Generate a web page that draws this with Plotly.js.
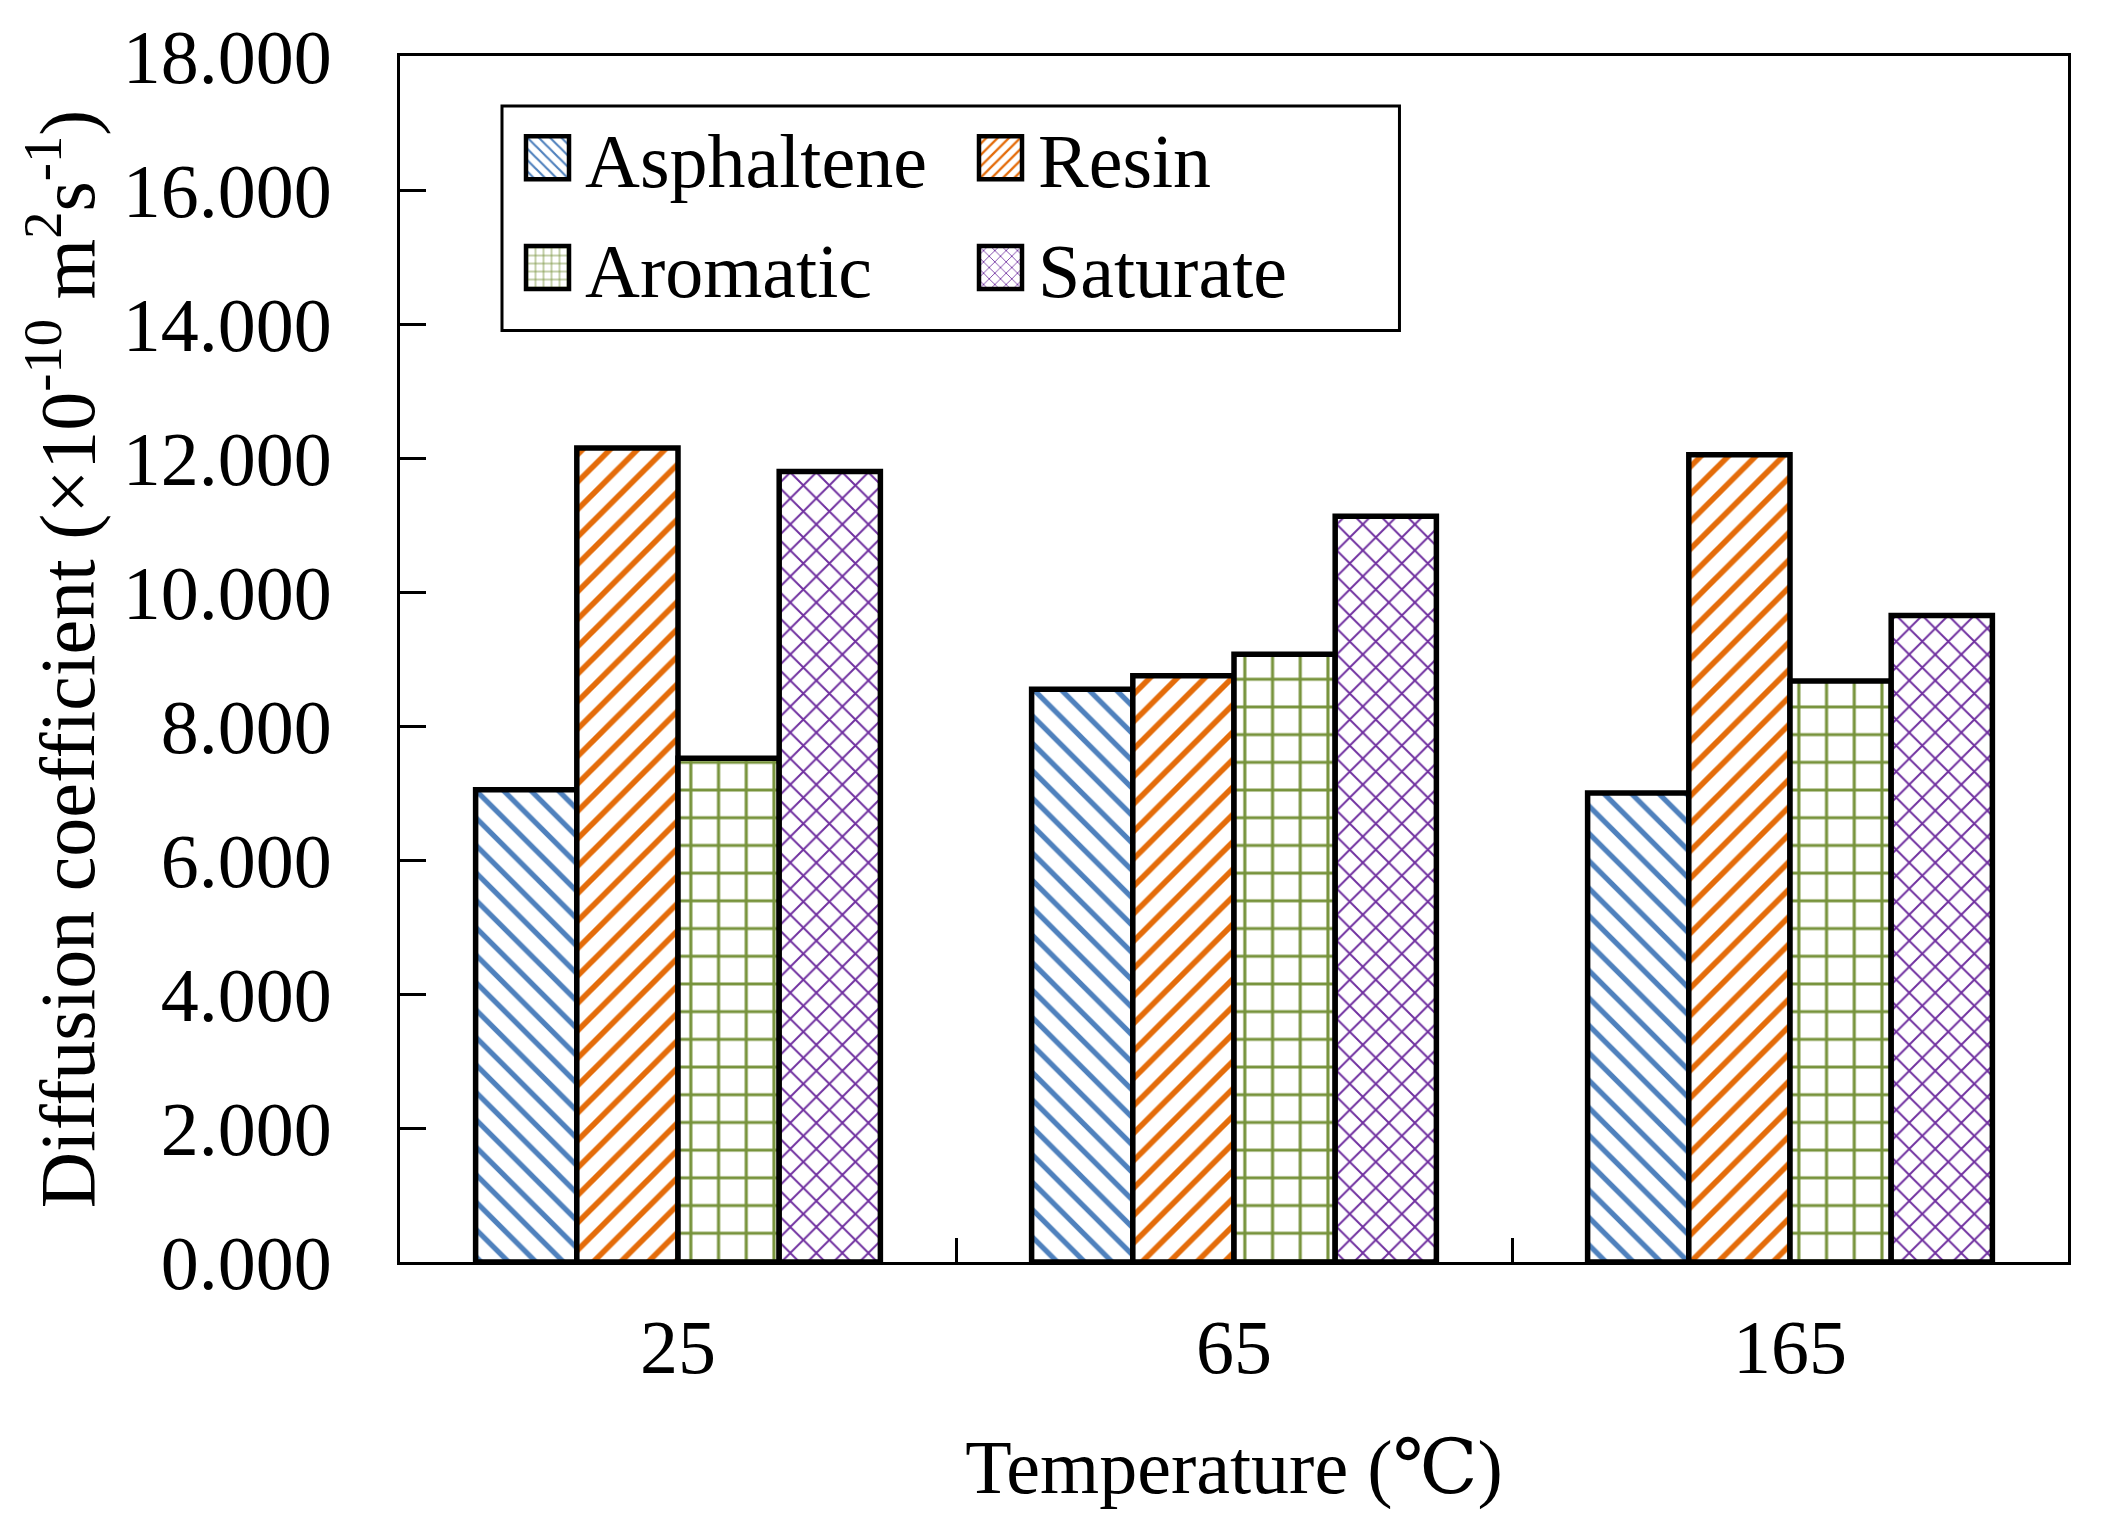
<!DOCTYPE html>
<html><head><meta charset="utf-8">
<script src="https://cdn.plot.ly/plotly-3.0.1.min.js"></script>
<style>html,body{margin:0;padding:0;background:#fff;} #chart{width:2106px;height:1535px;}</style>
</head><body><div id="chart"></div>
<script>
// ---- data ----
const categories = ['25', '65', '165'];
const seriesNames = ['Asphaltene', 'Resin', 'Aromatic', 'Saturate'];
const asphaltene = [7.05, 8.55, 7.00];
const resin = [12.15, 8.75, 12.05];
const aromatic = [7.52, 9.07, 8.67];
const saturate = [11.80, 11.13, 9.65];
const xTitle = 'Temperature (℃)';
const yTitle = 'Diffusion coefficient (×10<sup>-10</sup> m<sup>2</sup>s<sup>-1</sup>)';

// ---- styling ----
const FONT = '"Liberation Serif", "Times New Roman", "DejaVu Serif", serif';
const colors = ['#4F81BD', '#E46C0A', '#77933C', '#7030A0'];
const shapes = ['\\', '/', '+', 'x'];
const psize = [19.4, 19.4, 27.7, 18.4];
const psolid = [0.27, 0.29, 0.21, 0.2];
const legendOf = ['legend', 'legend2', 'legend', 'legend2'];
const values = [asphaltene, resin, aromatic, saturate];

const data = seriesNames.map((name, i) => ({
  type: 'bar',
  name: name,
  x: categories,
  y: values[i],
  legend: legendOf[i],
  legendgroup: name,
  hoverinfo: 'skip',
  marker: {
    color: '#ffffff',
    line: {color: '#000000', width: 5.5},
    pattern: {shape: shapes[i], fgcolor: colors[i], bgcolor: '#ffffff',
              size: psize[i], solidity: psolid[i], fillmode: 'replace'}
  }
}));

const legendBase = {
  xanchor: 'left', yanchor: 'top', y: 0.962,
  bgcolor: 'rgba(0,0,0,0)', borderwidth: 0,
  itemwidth: 65, tracegroupgap: 8, orientation: 'v',
  font: {family: FONT, size: 76, color: '#000'}
};

const layout = {
  width: 2106, height: 1535,
  paper_bgcolor: '#ffffff', plot_bgcolor: '#ffffff',
  margin: {l: 400, r: 38, t: 56, b: 273},
  font: {family: FONT, size: 76, color: '#000'},
  barmode: 'group', bargap: 0.272, bargroupgap: 0,
  showlegend: true,
  xaxis: {
    type: 'category', showline: true, linewidth: 3, linecolor: '#000', mirror: true,
    ticks: 'inside', tickson: 'boundaries', ticklen: 24, tickwidth: 3, tickcolor: '#000',
    showgrid: false, zeroline: false, ticklabelstandoff: 17,
    tickfont: {family: FONT, size: 76, color: '#000'},
    title: {text: xTitle, font: {family: FONT, size: 76, color: '#000'}, standoff: 52}
  },
  yaxis: {
    range: [0, 18], tickmode: 'linear', tick0: 0, dtick: 2, tickformat: '.3f',
    showline: true, linewidth: 3, linecolor: '#000', mirror: true,
    ticks: 'inside', ticklen: 26, tickwidth: 3, tickcolor: '#000',
    showgrid: false, zeroline: false, ticklabelstandoff: 50,
    tickfont: {family: FONT, size: 76, color: '#000'},
    title: {text: yTitle, font: {family: FONT, size: 78, color: '#000'}, standoff: 3}
  },
  legend: Object.assign({}, legendBase, {x: 0.06595}),
  legend2: Object.assign({}, legendBase, {x: 0.33753}),
  shapes: [{
    type: 'rect', xref: 'paper', yref: 'paper',
    x0: 0.06115, x1: 0.5992, y0: 0.7724, y1: 0.9585,
    line: {color: '#000', width: 3}, fillcolor: 'rgba(0,0,0,0)', layer: 'above'
  }]
};

Plotly.newPlot('chart', data, layout, {staticPlot: true, displayModeBar: false}).then(gd => {
  gd.querySelectorAll('g.legendpoints path').forEach(p => {
    p.setAttribute('d', 'M21.5,21.5H-21.5V-21.5H21.5Z');
    p.style.strokeWidth = '4.5px';
    p.style.stroke = '#000';
  });
});
</script>
</body></html>
